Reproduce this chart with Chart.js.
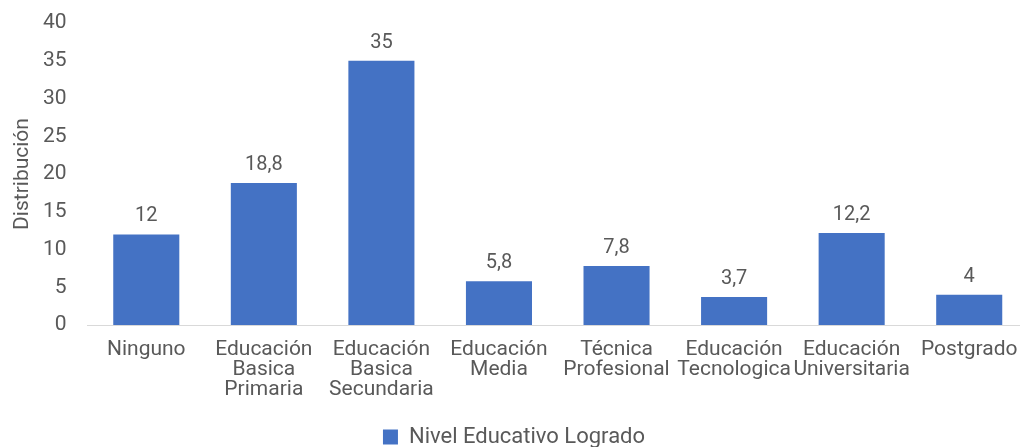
<!DOCTYPE html>
<html>
<head>
<meta charset="utf-8">
<script src="https://cdn.jsdelivr.net/npm/chart.js@4.4.1/dist/chart.umd.min.js"></script>
<style>
  html, body { margin: 0; padding: 0; background: #ffffff; }
  #wrap { width: 1020px; height: 447px; overflow: hidden; position: relative; }
  #myChart { position: absolute; left: 0; top: 0; }
</style>
</head>
<body>
<div id="wrap">
  <canvas id="myChart" width="1028" height="458"></canvas>
</div>
<script>
// niveles educativos (etiquetas en varias líneas)
var categorias = [
  ['Ninguno'],
  ['Educación', 'Basica', 'Primaria'],
  ['Educación', 'Basica', 'Secundaria'],
  ['Educación', 'Media'],
  ['Técnica', 'Profesional'],
  ['Educación', 'Tecnologica'],
  ['Educación', 'Universitaria'],
  ['Postgrado']
];
var valores = [12, 18.8, 35, 5.8, 7.8, 3.7, 12.2, 4];
var nombreSerie = 'Nivel Educativo Logrado';
var tituloEje = 'Distribución';

var grisTexto = '#595959';
var azul = '#4472C4';

// escribe el valor encima de cada barra, con coma decimal
const etiquetasValor = {
  id: 'etiquetasValor',
  afterDatasetsDraw(chart) {
    const ctx = chart.ctx;
    const meta = chart.getDatasetMeta(0);
    ctx.save();
    ctx.font = '20px Roboto';
    ctx.fillStyle = grisTexto;
    ctx.textAlign = 'center';
    ctx.textBaseline = 'middle';
    meta.data.forEach((bar, i) => {
      const txt = String(valores[i]).replace('.', ',');
      ctx.fillText(txt, bar.x, bar.y - 18);
    });
    ctx.restore();
  }
};

const data = {
  labels: categorias,
  datasets: [{
    label: nombreSerie,
    data: valores,
    backgroundColor: azul,
    barPercentage: 0.562,
    categoryPercentage: 1
  }]
};

const config = {
  type: 'bar',
  data: data,
  options: {
    responsive: false,
    animation: false,
    layout: {
      padding: { top: 23, right: 0, bottom: 0, left: 0 }
    },
    plugins: {
      legend: {
        position: 'bottom',
        labels: {
          color: grisTexto,
          font: { family: 'Roboto', size: 22 },
          boxWidth: 15,
          boxHeight: 15,
          padding: 0
        }
      },
      tooltip: { enabled: false }
    },
    scales: {
      x: {
        grid: { display: false, drawTicks: false },
        border: { display: true, color: '#D9D9D9', width: 1 },
        ticks: {
          color: grisTexto,
          font: { family: 'Roboto', size: 21, lineHeight: '20px' },
          padding: 15,
          maxRotation: 0,
          autoSkip: false
        },
        afterFit: function (scale) {
          scale.height = 101;
          scale.paddingLeft = 0;
          scale.paddingRight = 0;
        }
      },
      y: {
        min: 0,
        max: 40,
        grid: { display: false, drawTicks: false },
        border: { display: false },
        ticks: {
          stepSize: 5,
          color: grisTexto,
          font: { family: 'Roboto', size: 21 },
          padding: 21
        },
        title: {
          display: true,
          text: tituloEje,
          color: grisTexto,
          font: { family: 'Roboto', size: 21 },
          padding: { top: 10, bottom: 0 }
        },
        afterFit: function (scale) {
          scale.width = 87.5;
          scale.paddingTop = 0;
          scale.paddingBottom = 0;
        }
      }
    }
  },
  plugins: [etiquetasValor]
};

const ctx = document.getElementById('myChart');
let chart = new Chart(ctx, config);
</script>
</body>
</html>
